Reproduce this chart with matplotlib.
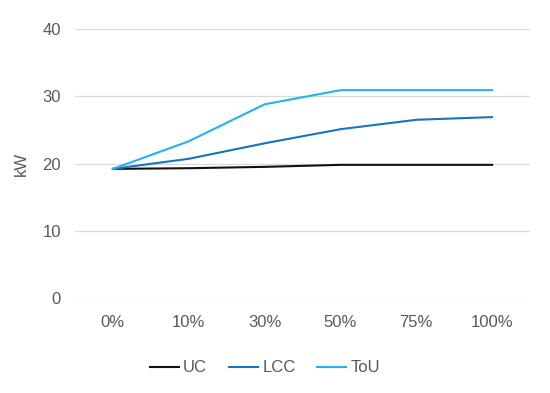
import matplotlib.pyplot as plt

# data
categories = ['0%', '10%', '30%', '50%', '75%', '100%']
uc = [19.2, 19.3, 19.5, 19.8, 19.8, 19.8]
lcc = [19.2, 20.7, 23.0, 25.1, 26.5, 26.9]
tou = [19.2, 23.3, 28.8, 30.9, 30.9, 30.9]

textColor = '#595959'
plt.rcParams['font.family'] = ['Liberation Sans', 'DejaVu Sans']

fig = plt.figure(figsize=(5.5, 3.93), dpi=100)
ax = fig.add_axes([75 / 550, 1 - 298 / 393, 455 / 550, 269 / 393])

x = range(len(categories))
ax.plot(x, uc, color='#111111', lw=1.5, label='UC')
ax.plot(x, lcc, color='#1874B8', lw=1.5, label='LCC')
ax.plot(x, tou, color='#22B4E6', lw=1.5, label='ToU')

ax.set_xlim(-0.5, len(categories) - 0.5)
ax.set_ylim(0, 40)
ax.set_yticks([0, 10, 20, 30, 40])
ax.set_xticks(list(x))
ax.set_xticklabels(categories)
ax.grid(axis='y', color='#d9d9d9', lw=0.9)
ax.set_axisbelow(True)
for s in ax.spines.values():
    s.set_visible(False)
ax.tick_params(length=0, colors=textColor, labelsize=12, pad=10)
ax.tick_params(axis='x', pad=12)
ax.set_ylabel('kW', color=textColor, fontsize=12, labelpad=10)

fig.legend(loc='center', bbox_to_anchor=(265 / 550, 1 - 368 / 393), ncol=3,
           frameon=False, fontsize=12, labelcolor=textColor,
           handlelength=1.75, handletextpad=0.25, columnspacing=1.3)

fig.savefig('out.png', dpi=100)
